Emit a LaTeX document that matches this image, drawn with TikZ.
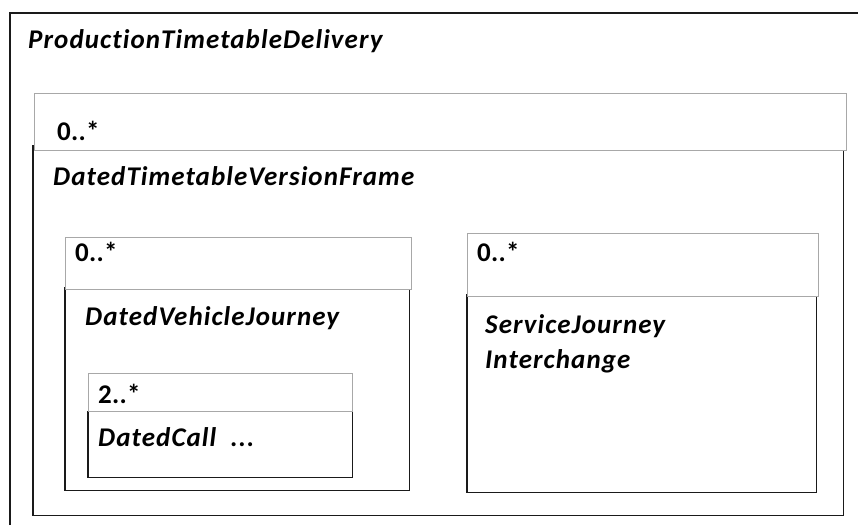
\documentclass[tikz,border=0pt]{standalone}
\usepackage{fontspec}
\setmainfont{Carlito}
\newfontfamily\diafont[LetterSpace=4,Ligatures=NoCommon]{Carlito}
\newfontfamily\multfont[LetterSpace=1,Ligatures=NoCommon]{Carlito}
\definecolor{hdrgray}{HTML}{A8A8A8}
\definecolor{linedark}{HTML}{1A1A1A}
\tikzset{
  hdr/.style={draw=hdrgray, line width=1.3pt, fill=white, anchor=north west, inner sep=0pt},
  bodyn/.style={anchor=north west, inner sep=0pt},
  bodyline/.style={draw=linedark, line width=1.6pt},
  mult/.style={anchor=base west, inner sep=0pt, font=\multfont\fontsize{27}{30}\selectfont\bfseries},
  cls/.style={anchor=base west, inner sep=0pt, font=\diafont\fontsize{27}{31}\selectfont\bfseries\itshape, align=left},
}
\begin{document}
\begin{tikzpicture}[x=1pt,y=-1pt]
\useasboundingbox (0,0) rectangle (858,525);
\fill[white] (0,0) rectangle (858,525);
% outer frame (extends beyond the picture)
\coordinate (ob) at (10,525);
\coordinate (otl) at (10,13);
\coordinate (otr) at (858,13);
\draw[bodyline] (ob) -- (otl) -- (otr);
\node[cls] (ptd) at (28,48) {ProductionTimetableDelivery};

% DatedTimetableVersionFrame
\node[bodyn, minimum width=810pt, minimum height=370pt] (dtvf) at (33,145) {};
\draw[bodyline] (dtvf.north west) -- (dtvf.south west) -- (dtvf.south east) -- (dtvf.north east);
\node[hdr, minimum width=812pt, minimum height=57pt] (dtvfh) at (34,93) {};
\node[mult] (m1) at (57,140) {0..*};
\node[cls] (t1) at (53,185) {DatedTimetableVersionFrame};

% DatedVehicleJourney
\node[bodyn, minimum width=344pt, minimum height=203pt] (dvj) at (65,287) {};
\draw[bodyline] (dvj.north west) -- (dvj.south west) -- (dvj.south east) -- (dvj.north east);
\node[hdr, minimum width=346pt, minimum height=52pt] (dvjh) at (65,237) {};
\node[mult] (m2) at (75,261) {0..*};
\node[cls] (t2) at (85,325) {DatedVehicleJourney};

% DatedCall
\node[bodyn, minimum width=264pt, minimum height=66pt] (dc) at (88,411) {};
\draw[bodyline] (dc.north west) -- (dc.south west) -- (dc.south east) -- (dc.north east);
\node[hdr, minimum width=264pt, minimum height=38pt] (dch) at (88,373) {};
\node[mult] (m3) at (98,403) {2..*};
\node[cls] (t3) at (98,446) {DatedCall\ \ ...};

% ServiceJourneyInterchange
\node[bodyn, minimum width=349pt, minimum height=198pt] (sji) at (467,294) {};
\draw[bodyline] (sji.north west) -- (sji.south west) -- (sji.south east) -- (sji.north east);
\node[hdr, minimum width=351pt, minimum height=63pt] (sjih) at (467,233) {};
\node[mult] (m4) at (477,261) {0..*};
\node[cls] (t4a) at (485,333) {ServiceJourney};
\node[cls] (t4b) at (485,368) {Interchange};
\end{tikzpicture}
\end{document}
